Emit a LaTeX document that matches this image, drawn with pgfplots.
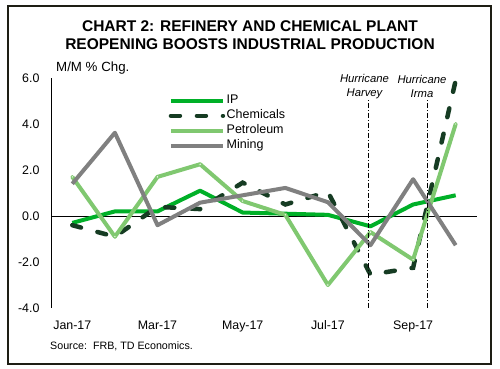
\documentclass[border=0pt]{standalone}
\usepackage{pgfplots}
\pgfplotsset{compat=1.18}
\usepackage{fontspec}
\setmainfont{Liberation Sans}
\definecolor{ipc}{RGB}{0,176,40}
\definecolor{chc}{RGB}{22,60,35}
\definecolor{pec}{RGB}{128,200,112}
\definecolor{mic}{RGB}{128,128,128}
\definecolor{frm}{RGB}{30,30,20}
\begin{document}
\begin{tikzpicture}
\useasboundingbox (0,0) rectangle (500bp,369bp);
\fill[white] (0,0) rectangle (500bp,369bp);
\draw[frm, line width=1.3bp] (8bp,5bp) rectangle (491bp,363bp);
\node[font=\fontsize{15.5bp}{18bp}\selectfont\bfseries, align=center] at (250bp,334bp) {CHART 2: REFINERY AND CHEMICAL PLANT\\REOPENING BOOSTS INDUSTRIAL PRODUCTION};
\node[anchor=west, inner sep=0pt, font=\fontsize{13.3bp}{16bp}\selectfont] at (56bp,301bp) {M/M \% Chg.};
\node[anchor=west, inner sep=0pt, font=\fontsize{10.7bp}{13bp}\selectfont] at (50bp,22.3bp) {Source:\ \ FRB, TD Economics.};
\node[align=center, inner sep=0pt, font=\fontsize{11.3bp}{13.3bp}\selectfont\itshape] at (364.5bp,282.5bp) {Hurricane\\Harvey};
\node[align=center, inner sep=0pt, font=\fontsize{11.3bp}{13.3bp}\selectfont\itshape] at (422bp,282.5bp) {Hurricane\\Irma};
\begin{axis}[
  at={(51bp,61bp)}, anchor=south west, scale only axis, width=426bp, height=230bp,
  xmin=-0.5, xmax=9.5, ymin=-4, ymax=6, clip=false,
  separate axis lines,
  axis x line*=bottom, axis y line*=left,
  x axis line style={draw=none},
  y axis line style={-, line width=0.8bp, black},
  major tick length=0pt,
  xtick={0,2,4,6,8}, xticklabels={Jan-17,Mar-17,May-17,Jul-17,Sep-17},
  ytick={-4,-2,0,2,4,6},
  yticklabel={\pgfmathprintnumber[fixed,fixed zerofill,precision=1,assume math mode=true]{\tick}},
  tick label style={font=\fontsize{12.4bp}{15bp}\selectfont},
  xticklabel style={anchor=base, yshift=-21.3bp},
  yticklabel style={anchor=base east, inner sep=0pt, xshift=-11.4bp, yshift=-4.4bp},
  extra y ticks={0}, extra y tick labels={},
  extra y tick style={grid=major, major grid style={black, line width=0.8bp}},
  legend style={at={(0.2758,0.9345)}, anchor=north west, draw=none, fill=none, inner sep=0pt,
    nodes={inner sep=1.5bp, text height=9bp, text depth=3bp, font=\fontsize{12.5bp}{15bp}\selectfont},
    row sep=0pt, column sep=0pt},
  legend cell align=left,
  legend image code/.code={\draw[#1] (0bp,0bp) -- (52bp,0bp);},
]
\addplot[ipc, line width=4bp, line join=round] coordinates {(0,-0.3) (1,0.2) (2,0.2) (3,1.1) (4,0.15) (5,0.1) (6,0.05) (7,-0.45) (8,0.5) (9,0.9)};
\addlegendentry{IP}
\addplot[chc, line width=4.5bp, line cap=round, dash pattern=on 9bp off 17bp] coordinates {(0,-0.4) (1,-0.9) (2,0.4) (3,0.3) (4,1.45) (5,0.5) (6,1.05) (7,-2.55) (8,-2.25) (9,5.9)};
\addlegendentry{Chemicals}
\addplot[pec, line width=4bp, line join=round, mark=*, mark size=1.5bp, mark options={fill=white, draw=pec, line width=0.8bp, solid}] coordinates {(0,1.7) (1,-0.9) (2,1.7) (3,2.25) (4,0.65) (5,0.05) (6,-3.0) (7,-0.7) (8,-1.9) (9,4.0)};
\addlegendentry{Petroleum}
\addplot[mic, line width=4bp, line join=round] coordinates {(0,1.4) (1,3.62) (2,-0.4) (3,0.58) (4,0.9) (5,1.22) (6,0.6) (7,-1.27) (8,1.6) (9,-1.27)};
\addlegendentry{Mining}
\draw[black, line width=0.8bp, dash pattern=on 5bp off 2bp on 1bp off 2bp] (axis cs:6.94,-4) -- (axis cs:6.94,5.04);
\draw[black, line width=0.8bp, dash pattern=on 5bp off 2bp on 1bp off 2bp] (axis cs:8.33,-4) -- (axis cs:8.33,5.04);
\end{axis}
\end{tikzpicture}
\end{document}
